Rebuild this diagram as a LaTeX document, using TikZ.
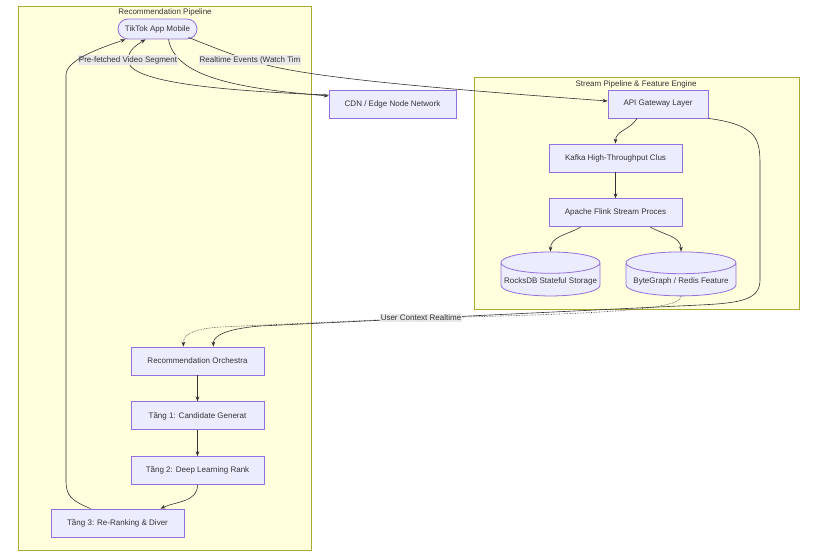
\documentclass[tikz,border=0pt]{standalone}
\usepackage{fontspec}
\setmainfont{Liberation Sans}
\usetikzlibrary{positioning,arrows.meta,shapes.geometric}
\definecolor{clusterfill}{HTML}{FFFFDE}
\definecolor{clusterline}{HTML}{AAAA33}
\definecolor{nodefill}{HTML}{ECECFF}
\definecolor{nodeline}{HTML}{9370DB}
\definecolor{inkgray}{HTML}{333333}
\definecolor{labelgray}{HTML}{E8E8E8}

\begin{document}
\begin{tikzpicture}[x=1pt,y=1pt,node distance=26pt,
          font=\fontsize{8}{9.6}\selectfont,text=inkgray,
          box/.style={draw=nodeline,fill=nodefill,line width=0.8pt,
            minimum width=133pt,minimum height=28pt,inner sep=2pt},
          pill/.style={box,rounded corners=10pt,
            minimum width=79pt,minimum height=20pt},
          db/.style={cylinder,shape border rotate=90,aspect=0.22,
            draw=nodeline,fill=nodefill,line width=0.8pt,inner sep=2pt},
          cluster/.style={draw=clusterline,fill=clusterfill,line width=0.8pt},
          edgelabel/.style={fill=labelgray,inner sep=1pt},
          flow/.style={-{Stealth[length=5pt]},inkgray,line width=0.6pt}]

        \useasboundingbox (0,0) rectangle (825,-556);

        % clusters
        \draw[cluster] (18,-6) rectangle (311,-550);
        \draw[cluster] (474,-77) rectangle (799,-309);
        \node (rectitle) at (165,-12) {Recommendation Pipeline};
        \node (streamtitle) at (636,-84) {Stream Pipeline \& Feature Engine};

        % nodes
        \node[pill] (tiktok) at (157.5,-29) {TikTok App Mobile};
        \node[box,minimum width=127pt] (cdn) at (392.5,-104)
          {CDN / Edge Node Network};
        \node[box,minimum width=100pt] (api) at (658,-104)
          {API Gateway Layer};
        \node[box] (kafka) at (615.5,-158) {Kafka High-Throughput Clus};
        \node[box,below=of kafka] (flink) {Apache Flink Stream Proces};
        \node[db,minimum width=99pt,minimum height=44pt] (rocks)
          at (550.5,-281) {RocksDB Stateful Storage};
        \node[db,minimum width=110pt,minimum height=44pt] (bytegraph)
          at (681,-281) {ByteGraph / Redis Feature};

        \node[box] (orch) at (197.5,-361) {Recommendation Orchestra};
        \node[box,below=of orch] (tier1) {Tầng 1: Candidate Generat};
        \node[box,below=of tier1] (tier2) {Tầng 2: Deep Learning Rank};
        \node[box] (tier3) at (117.5,-523) {Tầng 3: Re-Ranking \& Diver};

        % edges
        \draw[flow] ([xshift=11pt]tiktok.south)
          .. controls (175,-75) and (230,-88) .. ([yshift=8pt]cdn.west);
        \draw[flow] ([yshift=9pt]cdn.west)
          .. controls (200,-90) and (128,-80) .. (128,-60)
          node[edgelabel] (fetchlabel) {Pre-fetched Video Segment}
          .. controls (128,-50) and (138,-44) .. ([xshift=-12pt]tiktok.south);
        \draw[flow] ([xshift=31pt,yshift=2pt]tiktok.south)
          .. controls (215,-48) and (235,-56) .. (250,-60)
          node[edgelabel] (eventlabel) {Realtime Events (Watch Tim}
          .. controls (290,-75) and (400,-86) .. ([yshift=3pt]api.west);
        \draw[flow] ([xshift=-27pt]tier3.north)
          .. controls (70,-500) and (66,-495) .. (66,-480) -- (66,-75)
          .. controls (66,-60) and (100,-48) .. ([xshift=-32pt]tiktok.south);

        \draw[flow] ([xshift=-21pt]api.south) to[out=-120,in=90] (kafka.north);
        \draw[flow] (kafka) -- (flink);
        \draw[flow] ([xshift=-35pt]flink.south) to[out=-150,in=90] (rocks.north);
        \draw[flow] ([xshift=35pt]flink.south) to[out=-30,in=90] (bytegraph.north);

        \draw[flow] (api.south east)
          .. controls (758,-125) and (760,-140) .. (760,-165) -- (760,-280)
          .. controls (760,-300) and (740,-303) .. (700,-305) -- (260,-326)
          .. controls (225,-329) and (213,-336) .. ([xshift=16pt]orch.north);
        \draw[flow,densely dotted] (bytegraph.south)
          .. controls (681,-310) and (600,-314) .. (421,-318)
          node[edgelabel] (contextlabel) {User Context Realtime}
          -- (220,-327)
          .. controls (190,-329) and (183,-336) .. ([xshift=-14pt]orch.north);

        \draw[flow] (orch) -- (tier1);
        \draw[flow] (tier1) -- (tier2);
        \draw[flow] (tier2.south) to[out=-90,in=25] ([xshift=43pt]tier3.north);

      \end{tikzpicture}
\end{document}
